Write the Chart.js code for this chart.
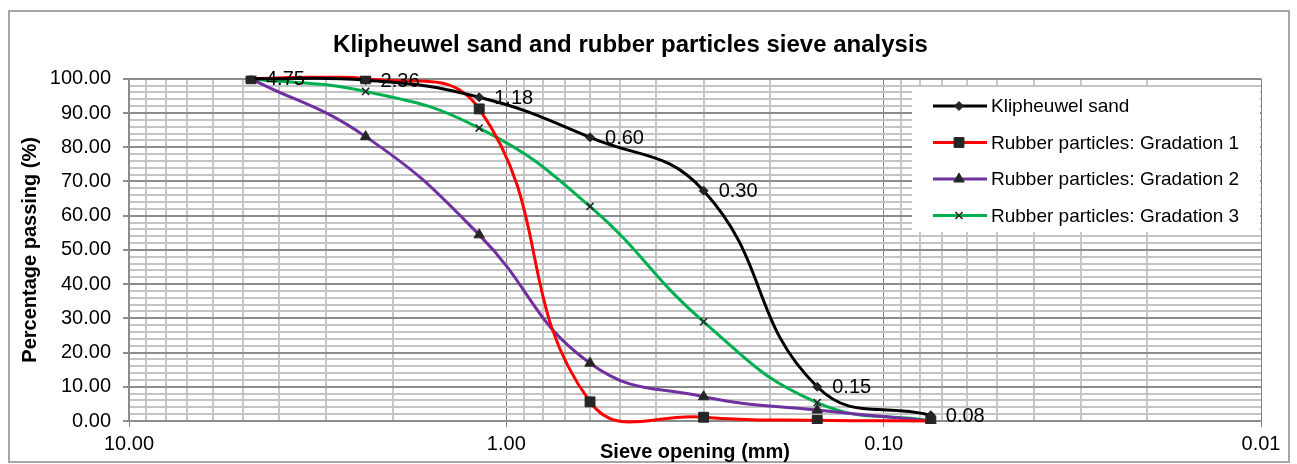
<!DOCTYPE html>
<html>
<head>
<meta charset="utf-8">
<script src="https://cdn.jsdelivr.net/npm/chart.js@4.4.1/dist/chart.umd.min.js"></script>
<style>
  html, body { margin: 0; padding: 0; background: #fff; }
  canvas { display: block; }
</style>
</head>
<body>
<canvas id="sieveChart" width="1297" height="464"></canvas>
<script>
// sieve openings (mm) and the labels printed next to the sand curve
const sieveSizes = [4.75, 2.36, 1.18, 0.60, 0.30, 0.15, 0.075];
const sieveLabels = ['4.75', '2.36', '1.18', '0.60', '0.30', '0.15', '0.08'];

// percentage passing per material
const klipheuwelSand = [100, 99.6, 94.6, 82.9, 67.3, 10.0, 1.7];
const gradation1 = [100, 100, 91.2, 5.6, 1.1, 0.2, 0];
const gradation2 = [100, 83.1, 54.4, 16.9, 7.1, 3.2, 0];
const gradation3 = [100, 96.3, 85.6, 62.7, 29.0, 5.4, 0];

const seriesNames = ['Klipheuwel sand', 'Rubber particles: Gradation 1',
  'Rubber particles: Gradation 2', 'Rubber particles: Gradation 3'];
const seriesColors = ['#000000', '#ff0000', '#7030a0', '#00b050'];
const seriesMarkers = ['rectRot', 'rect', 'triangle', 'crossRot'];

const xTickValues = [10, 1, 0.1, 0.01];
const xTickLabels = ['10.00', '1.00', '0.10', '0.01'];

const FONT = "'Liberation Sans', Arial, sans-serif";
Chart.defaults.font.family = FONT;
Chart.defaults.color = '#000';

function isDecade(v) {
  return xTickValues.some(t => Math.abs(t - v) < 1e-9);
}

function toPoints(values) {
  return values.map((y, i) => ({ x: sieveSizes[i], y: y }));
}

const markerSize = { rectRot: 4.5, rect: 7, triangle: 6, crossRot: 5 };

const datasets = [klipheuwelSand, gradation1, gradation2, gradation3].map((vals, i) => ({
  label: seriesNames[i],
  data: toPoints(vals),
  borderColor: seriesColors[i],
  borderWidth: 3,
  tension: 0.45,
  capBezierPoints: false,
  clip: 3,
  pointStyle: seriesMarkers[i],
  pointRadius: markerSize[seriesMarkers[i]],
  pointBackgroundColor: '#262626',
  pointBorderColor: '#262626',
  pointBorderWidth: seriesMarkers[i] === 'crossRot' ? 1.6 : 1
}));

const framePlugin = {
  id: 'frame',
  beforeDraw(chart) {
    const ctx = chart.ctx;
    ctx.save();
    ctx.fillStyle = '#fff';
    ctx.fillRect(0, 0, chart.width, chart.height);
    ctx.strokeStyle = '#a6a6a6';
    ctx.lineWidth = 2;
    ctx.strokeRect(9, 11, 1280, 451);
    ctx.restore();
  }
};

const pointLabels = {
  id: 'pointLabels',
  afterDatasetsDraw(chart) {
    const ctx = chart.ctx;
    const meta = chart.getDatasetMeta(0);
    ctx.save();
    ctx.font = '20px ' + FONT;
    ctx.fillStyle = '#000';
    ctx.textBaseline = 'middle';
    meta.data.forEach((pt, i) => {
      ctx.fillText(sieveLabels[i], pt.x + 15, pt.y + 1);
    });
    ctx.restore();
  }
};

// legend box sitting inside the plot, line sample with marker in the middle
const boxLegend = {
  id: 'boxLegend',
  afterDraw(chart) {
    const ctx = chart.ctx;
    const left = 912, top = 87, right = 1260, bottom = 232;
    ctx.save();
    ctx.fillStyle = '#fff';
    ctx.fillRect(left, top, right - left, bottom - top);
    ctx.font = '19px ' + FONT;
    ctx.textBaseline = 'middle';
    chart.data.datasets.forEach((ds, i) => {
      const y = 106 + i * 36.5;
      ctx.strokeStyle = ds.borderColor;
      ctx.lineWidth = 3;
      ctx.beginPath();
      ctx.moveTo(933, y);
      ctx.lineTo(987, y);
      ctx.stroke();
      ctx.fillStyle = ds.pointBackgroundColor;
      ctx.strokeStyle = ds.pointBorderColor;
      ctx.lineWidth = ds.pointBorderWidth;
      Chart.helpers.drawPoint(ctx, {
        pointStyle: ds.pointStyle,
        radius: ds.pointRadius,
        rotation: 0,
        borderWidth: ds.pointBorderWidth
      }, 959, y);
      ctx.fillStyle = '#000';
      ctx.fillText(ds.label, 991, y + 1);
    });
    ctx.restore();
  }
};

new Chart(document.getElementById('sieveChart').getContext('2d'), {
  type: 'line',
  data: { datasets: datasets },
  plugins: [framePlugin, pointLabels, boxLegend],
  options: {
    responsive: false,
    animation: false,
    devicePixelRatio: 1,
    layout: { padding: { left: 0, right: 36, top: 0, bottom: 0 } },
    plugins: {
      legend: { display: false },
      tooltip: { enabled: false },
      title: {
        display: true,
        text: 'Klipheuwel sand and rubber particles sieve analysis',
        color: '#000',
        font: { size: 24, weight: 'bold', lineHeight: 1.2 },
        padding: { top: 31, bottom: 19 }
      }
    },
    scales: {
      x: {
        type: 'logarithmic',
        reverse: true,
        min: 0.01,
        max: 10,
        afterBuildTicks(scale) {
          const ticks = [];
          [-2, -1, 0].forEach(e => {
            for (let s = 1; s <= 9; s++) ticks.push({ value: +(s * Math.pow(10, e)).toPrecision(6) });
          });
          ticks.push({ value: 10 });
          scale.ticks = ticks;
        },
        afterFit(scale) { scale.height = 43; },
        ticks: {
          autoSkip: false,
          maxRotation: 0,
          padding: 5,
          font: { size: 20 },
          callback(value) {
            const idx = xTickValues.findIndex(t => Math.abs(t - value) < 1e-9);
            return idx >= 0 ? xTickLabels[idx] : '';
          }
        },
        grid: {
          color: c => isDecade(c.tick.value) ? '#808080' : '#c8c8c8',
          lineWidth: c => isDecade(c.tick.value) ? 1 : 2,
          tickColor: c => isDecade(c.tick.value) ? '#808080' : 'rgba(0,0,0,0)',
          tickLength: 6
        },
        border: { color: '#8c8c8c', width: 2 },
        title: {
          display: true,
          text: 'Sieve opening (mm)',
          color: '#000',
          font: { size: 20, weight: 'bold' },
          padding: { top: 0, bottom: 0 }
        }
      },
      y: {
        type: 'linear',
        min: 0,
        max: 100,
        afterFit(scale) { scale.width = 129; },
        ticks: {
          stepSize: 2,
          autoSkip: false,
          padding: 12,
          font: { size: 20 },
          callback: v => (Math.round(v) % 10 === 0 ? v.toFixed(2) : '')
        },
        grid: {
          color: c => Math.round(c.tick.value) % 10 === 0 ? '#8c8c8c' : '#c4c4c4',
          lineWidth: 2,
          tickColor: c => Math.round(c.tick.value) % 10 === 0 ? '#8c8c8c' : 'rgba(0,0,0,0)',
          tickLength: 6
        },
        border: { color: '#8c8c8c', width: 2 },
        title: {
          display: true,
          text: 'Percentage passing (%)',
          color: '#000',
          font: { size: 20, weight: 'bold' },
          padding: { top: 18, bottom: 0 }
        }
      }
    }
  }
});
</script>
</body>
</html>
